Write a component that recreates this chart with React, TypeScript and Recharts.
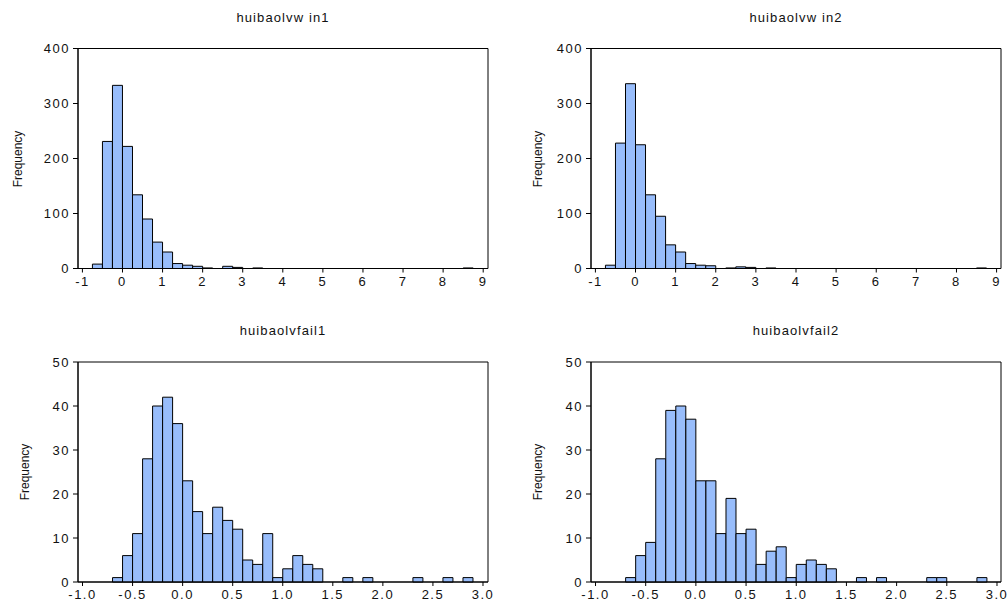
import { BarChart, Bar, XAxis, YAxis, ReferenceArea } from 'recharts'

// histogram counts (one entry per bin, left to right)
const winBinStart = -0.75
const winBinWidth = 0.25
const win1Counts = [
  8, 231, 333, 222, 134, 90, 48, 30, 9, 6, 4, 1, 0, 4, 2, 0, 1,
  0, 0, 0, 0, 0, 0, 0, 0, 0, 0, 0, 0, 0, 0, 0, 0, 0, 0, 0,
  0, 1,
]
const win2Counts = [
  6, 228, 336, 225, 134, 95, 43, 30, 9, 6, 5, 0, 1, 3, 2, 0, 1,
  0, 0, 0, 0, 0, 0, 0, 0, 0, 0, 0, 0, 0, 0, 0, 0, 0, 0, 0,
  0, 1,
]
const winXTicks = [-1, 0, 1, 2, 3, 4, 5, 6, 7, 8, 9]
const winYTicks = [0, 100, 200, 300, 400]

const failBinStart = -0.7
const failBinWidth = 0.1
const fail1Counts = [
  1, 6, 11, 28, 40, 42, 36, 23, 16, 11, 17, 14, 12, 5, 4, 11, 1, 3,
  6, 4, 3, 0, 0, 1, 0, 1, 0, 0, 0, 0, 1, 0, 0, 1, 0, 1,
]
const fail2Counts = [
  1, 6, 9, 28, 39, 40, 37, 23, 23, 11, 19, 11, 12, 4, 7, 8, 1, 4,
  5, 4, 3, 0, 0, 1, 0, 1, 0, 0, 0, 0, 1, 1, 0, 0, 0, 1,
]
const failXTicks = [-1.0, -0.5, 0.0, 0.5, 1.0, 1.5, 2.0, 2.5, 3.0]
const failYTicks = [0, 10, 20, 30, 40, 50]

const FONT = '"Liberation Sans", Arial, sans-serif'
const BAR_FILL = '#98bdfb'
const INK = '#111'

function toBins(counts: number[], start: number, width: number) {
  return counts.map((count, i) => ({ mid: start + (i + 0.5) * width, count }))
}

type PanelProps = {
  title: string
  counts: number[]
  binStart: number
  binWidth: number
  xDomain: [number, number]
  xTicks: number[]
  yTicks: number[]
  xFmt: (v: number) => string
  left: number
  top: number
  width: number
  height: number
  plot: { left: number; right: number; top: number; bottom: number }
  freqX: number
}

function HistPanel(p: PanelProps) {
  const data = toBins(p.counts, p.binStart, p.binWidth)
  const yMax = p.yTicks[p.yTicks.length - 1]
  const tick = { fontSize: 13, fill: INK, fontFamily: FONT, letterSpacing: 1.5 }
  const cx = (p.plot.left + p.plot.right) / 2
  const cy = (p.plot.top + p.plot.bottom) / 2

  return (
    <div style={{ position: 'absolute', left: p.left, top: p.top, width: p.width, height: p.height }}>
      <div
        style={{
          position: 'absolute', left: cx, top: p.plot.top - 32, transform: 'translate(-50%, -50%)',
          fontFamily: FONT, fontSize: 13, letterSpacing: 1.1, color: INK, whiteSpace: 'nowrap',
        }}
      >
        {p.title}
      </div>
      <div
        style={{
          position: 'absolute', left: p.freqX, top: cy, transform: 'translate(-50%, -50%) rotate(-90deg)',
          fontFamily: FONT, fontSize: 12, color: INK, whiteSpace: 'nowrap',
        }}
      >
        Frequency
      </div>
      <BarChart
        width={p.width}
        height={p.height}
        data={data}
        margin={{ top: p.plot.top, right: p.width - p.plot.right, bottom: 0, left: 0 }}
        barCategoryGap={0}
        barGap={0}
      >
        <XAxis
          xAxisId="b"
          dataKey="mid"
          type="number"
          domain={p.xDomain}
          ticks={p.xTicks}
          interval={0}
          allowDataOverflow
          height={p.height - p.plot.bottom}
          tickSize={4}
          tickMargin={4}
          axisLine={{ stroke: '#000' }}
          tickLine={{ stroke: '#000' }}
          tick={tick}
          tickFormatter={p.xFmt}
        />
        <YAxis
          yAxisId="l"
          domain={[0, yMax]}
          ticks={p.yTicks}
          interval={0}
          width={p.plot.left}
          tickSize={5}
          tickMargin={3}
          axisLine={{ stroke: '#000' }}
          tickLine={{ stroke: '#000' }}
          tick={tick}
        />
        <Bar
          xAxisId="b"
          yAxisId="l"
          dataKey="count"
          fill={BAR_FILL}
          stroke="#000"
          strokeWidth={1}
          isAnimationActive={false}
        />
        {/* frame round the plot area */}
        <ReferenceArea
          xAxisId="b"
          yAxisId="l"
          x1={p.xDomain[0]}
          x2={p.xDomain[1]}
          y1={0}
          y2={yMax}
          fill="none"
          fillOpacity={0}
          stroke="#000"
          strokeWidth={1}
          ifOverflow="visible"
        />
      </BarChart>
    </div>
  )
}

export default function App() {
  const intFmt = (v: number) => String(v)
  const decFmt = (v: number) => v.toFixed(1)
  return (
    <div style={{ position: 'absolute', left: 0, top: 0, width: 1007, height: 606, background: '#fff' }}>
      <HistPanel
        title="huibaolvw in1"
        counts={win1Counts}
        binStart={winBinStart}
        binWidth={winBinWidth}
        xDomain={[-1.11, 9.12]}
        xTicks={winXTicks}
        yTicks={winYTicks}
        xFmt={intFmt}
        left={0}
        top={0}
        width={503}
        height={300}
        plot={{ left: 78, right: 488, top: 48.5, bottom: 268.5 }}
        freqX={18}
      />
      <HistPanel
        title="huibaolvw in2"
        counts={win2Counts}
        binStart={winBinStart}
        binWidth={winBinWidth}
        xDomain={[-1.11, 9.11]}
        xTicks={winXTicks}
        yTicks={winYTicks}
        xFmt={intFmt}
        left={503}
        top={0}
        width={504}
        height={300}
        plot={{ left: 88, right: 498, top: 48.5, bottom: 268.5 }}
        freqX={35}
      />
      <HistPanel
        title="huibaolvfail1"
        counts={fail1Counts}
        binStart={failBinStart}
        binWidth={failBinWidth}
        xDomain={[-1.045, 3.05]}
        xTicks={failXTicks}
        yTicks={failYTicks}
        xFmt={decFmt}
        left={0}
        top={300}
        width={503}
        height={306}
        plot={{ left: 78, right: 488, top: 62, bottom: 282 }}
        freqX={25}
      />
      <HistPanel
        title="huibaolvfail2"
        counts={fail2Counts}
        binStart={failBinStart}
        binWidth={failBinWidth}
        xDomain={[-1.045, 3.04]}
        xTicks={failXTicks}
        yTicks={failYTicks}
        xFmt={decFmt}
        left={503}
        top={300}
        width={504}
        height={306}
        plot={{ left: 88, right: 498, top: 62, bottom: 282 }}
        freqX={35}
      />
    </div>
  )
}
